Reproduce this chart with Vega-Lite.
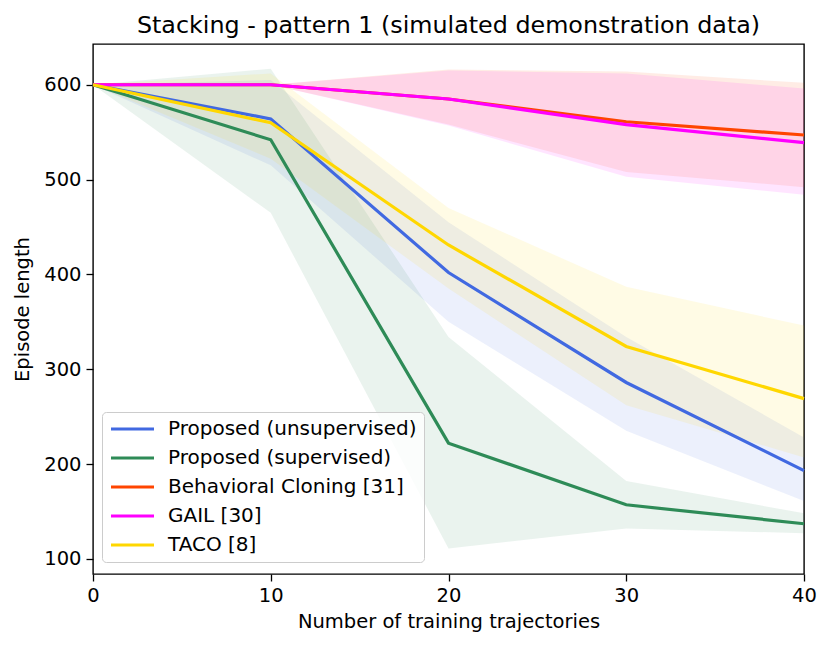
{
  "$schema": "https://vega.github.io/schema/vega-lite/v6.json",
  "width": 711,
  "height": 530,
  "autosize": {"type": "none"},
  "padding": {"left": 93, "top": 44, "right": 26, "bottom": 74},
  "title": {"text": "Stacking - pattern 1 (simulated demonstration data)", "fontSize": 23.8, "fontWeight": "normal", "font": "DejaVu Sans", "color": "black", "offset": 6},
  "data": {"values": [
    {"series": "Proposed (unsupervised)", "n": 0, "mean": 600, "lo": 600, "hi": 600},
    {"series": "Proposed (unsupervised)", "n": 10, "mean": 564, "lo": 515, "hi": 605},
    {"series": "Proposed (unsupervised)", "n": 20, "mean": 402, "lo": 350, "hi": 455},
    {"series": "Proposed (unsupervised)", "n": 30, "mean": 286, "lo": 235, "hi": 334},
    {"series": "Proposed (unsupervised)", "n": 40, "mean": 193, "lo": 161, "hi": 228},
    {"series": "Proposed (supervised)", "n": 0, "mean": 600, "lo": 600, "hi": 600},
    {"series": "Proposed (supervised)", "n": 10, "mean": 542, "lo": 465, "hi": 617},
    {"series": "Proposed (supervised)", "n": 20, "mean": 222, "lo": 111, "hi": 334},
    {"series": "Proposed (supervised)", "n": 30, "mean": 157, "lo": 132, "hi": 182},
    {"series": "Proposed (supervised)", "n": 40, "mean": 137, "lo": 127, "hi": 148},
    {"series": "Behavioral Cloning [31]", "n": 0, "mean": 600, "lo": 600, "hi": 600},
    {"series": "Behavioral Cloning [31]", "n": 10, "mean": 600, "lo": 600, "hi": 600},
    {"series": "Behavioral Cloning [31]", "n": 20, "mean": 585, "lo": 558, "hi": 616},
    {"series": "Behavioral Cloning [31]", "n": 30, "mean": 561, "lo": 508, "hi": 614},
    {"series": "Behavioral Cloning [31]", "n": 40, "mean": 547, "lo": 492, "hi": 602},
    {"series": "GAIL [30]", "n": 0, "mean": 600, "lo": 600, "hi": 600},
    {"series": "GAIL [30]", "n": 10, "mean": 600, "lo": 600, "hi": 600},
    {"series": "GAIL [30]", "n": 20, "mean": 585, "lo": 557, "hi": 615},
    {"series": "GAIL [30]", "n": 30, "mean": 558, "lo": 503, "hi": 612},
    {"series": "GAIL [30]", "n": 40, "mean": 539, "lo": 484, "hi": 596},
    {"series": "TACO [8]", "n": 0, "mean": 600, "lo": 600, "hi": 600},
    {"series": "TACO [8]", "n": 10, "mean": 560, "lo": 522, "hi": 612},
    {"series": "TACO [8]", "n": 20, "mean": 431, "lo": 385, "hi": 470},
    {"series": "TACO [8]", "n": 30, "mean": 324, "lo": 262, "hi": 387},
    {"series": "TACO [8]", "n": 40, "mean": 269, "lo": 207, "hi": 346}
  ]},
  "encoding": {
    "x": {
      "field": "n",
      "type": "quantitative",
      "scale": {"domain": [0, 40], "nice": false, "zero": false},
      "axis": {"title": "Number of training trajectories", "values": [0, 10, 20, 30, 40], "titlePadding": 8}
    },
    "color": {
      "field": "series",
      "type": "nominal",
      "sort": null,
      "scale": {
        "domain": ["Proposed (unsupervised)", "Proposed (supervised)", "Behavioral Cloning [31]", "GAIL [30]", "TACO [8]"],
        "range": ["#4169e1", "#2e8b57", "#ff4500", "#ff00ff", "#ffd700"]
      },
      "legend": {
        "title": null,
        "orient": "none",
        "legendX": 9,
        "legendY": 368,
        "symbolType": "stroke",
        "symbolSize": 1849,
        "symbolStrokeWidth": 3.2,
        "symbolOpacity": 1,
        "clipHeight": 20,
        "rowPadding": 9,
        "labelFontSize": 20,
        "labelOffset": 12,
        "labelLimit": 0,
        "labelFont": "DejaVu Sans",
        "labelColor": "black",
        "padding": 7,
        "strokeColor": "#cccccc",
        "fillColor": "rgba(255,255,255,0.8)",
        "cornerRadius": 4
      }
    }
  },
  "layer": [
    {
      "mark": {"type": "area", "opacity": 0.1},
      "encoding": {
        "y": {"field": "lo", "type": "quantitative"},
        "y2": {"field": "hi"}
      }
    },
    {
      "mark": {"type": "line", "strokeWidth": 3.2},
      "encoding": {
        "y": {
          "field": "mean",
          "type": "quantitative",
          "scale": {"domain": [84, 643], "nice": false, "zero": false},
          "axis": {"title": "Episode length", "values": [100, 200, 300, 400, 500, 600], "titlePadding": 11}
        }
      }
    }
  ],
  "config": {
    "view": {"stroke": "black", "strokeWidth": 1.4},
    "axis": {
      "grid": false,
      "domain": false,
      "labelFlush": false,
      "tickColor": "black",
      "tickSize": 7,
      "tickWidth": 1.3,
      "labelFont": "DejaVu Sans",
      "labelFontSize": 19.5,
      "labelColor": "black",
      "labelPadding": 5,
      "titleFont": "DejaVu Sans",
      "titleFontSize": 19.5,
      "titleFontWeight": "normal",
      "titleColor": "black"
    }
  }
}
